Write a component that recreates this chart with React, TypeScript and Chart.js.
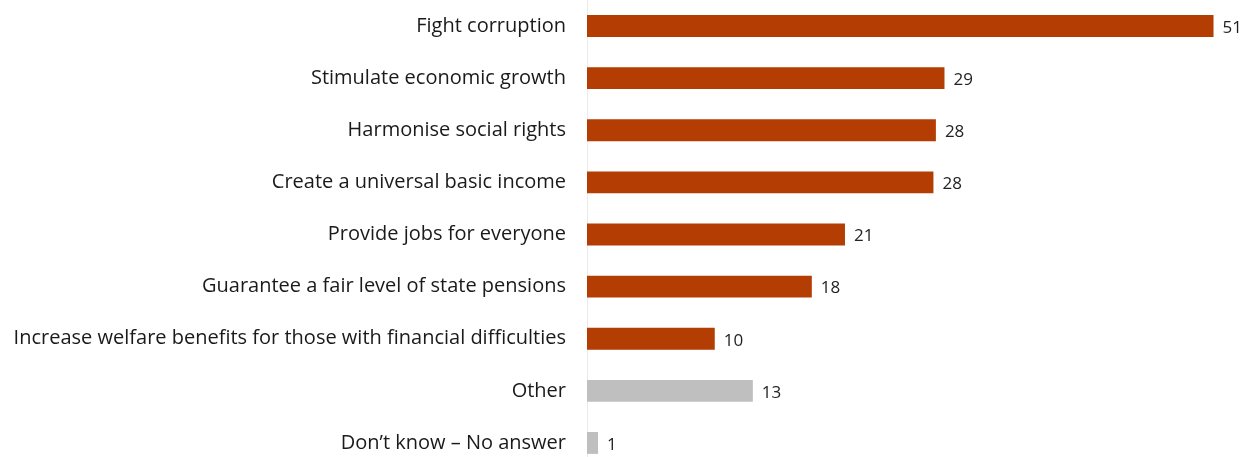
import React, { useEffect, useRef } from "react";
import { Chart, registerables } from "chart.js";

Chart.register(...registerables);

const categories = [
  "Fight corruption",
  "Stimulate economic growth",
  "Harmonise social rights",
  "Create a universal basic income",
  "Provide jobs for everyone",
  "Guarantee a fair level of state pensions",
  "Increase welfare benefits for those with financial difficulties",
  "Other",
  "Don\u2019t know \u2013 No answer",
];
const values = [51.0, 29.1, 28.4, 28.2, 21.0, 18.3, 10.4, 13.5, 0.9];
const valueLabels = ["51", "29", "28", "28", "21", "18", "10", "13", "1"];
const barColors = [
  "#B33D03", "#B33D03", "#B33D03", "#B33D03", "#B33D03", "#B33D03", "#B33D03",
  "#BFBFBF", "#BFBFBF",
];

const FONT = "'Open Sans', 'Noto Sans', sans-serif";

const valueLabelPlugin = {
  id: "valueLabels",
  afterDatasetsDraw(chart: any) {
    const ctx = chart.ctx;
    const meta = chart.getDatasetMeta(0);
    ctx.save();
    ctx.font = `17px ${FONT}`;
    ctx.fillStyle = "#222222";
    ctx.textAlign = "left";
    ctx.textBaseline = "middle";
    meta.data.forEach((bar: any, i: number) => {
      ctx.fillText(valueLabels[i], bar.x + 9, bar.y + 2);
    });
    ctx.restore();
  },
};

export default function App() {
  const ref = useRef<HTMLCanvasElement | null>(null);
  useEffect(() => {
    document.body.style.margin = "0";
    document.body.style.overflow = "hidden";
    const chart = new Chart(ref.current as HTMLCanvasElement, {
      type: "bar",
      data: {
        labels: categories,
        datasets: [
          {
            data: values,
            backgroundColor: barColors,
            borderWidth: 0,
            barPercentage: 0.42,
            categoryPercentage: 1,
          },
        ],
      },
      options: {
        indexAxis: "y",
        animation: false,
        responsive: true,
        maintainAspectRatio: false,
        layout: { padding: 0 },
        plugins: {
          legend: { display: false },
          tooltip: { enabled: false },
        },
        scales: {
          x: {
            display: false,
            min: 0,
            max: 53.4,
          },
          y: {
            afterFit: (scale: any) => {
              scale.width = 587;
              scale.paddingTop = 0;
              scale.paddingBottom = 0;
            },
            grid: { display: false, drawTicks: false },
            border: { display: true, color: "#EAEAEA", width: 1 },
            ticks: {
              padding: 21,
              color: "#1A1A1A",
              font: { family: FONT, size: 20 },
              autoSkip: false,
            },
          },
        },
      },
      plugins: [valueLabelPlugin],
    });
    return () => chart.destroy();
  }, []);
  return (
    <div style={{ width: 1243, height: 469, position: "relative" }}>
      <canvas ref={ref} />
    </div>
  );
}
